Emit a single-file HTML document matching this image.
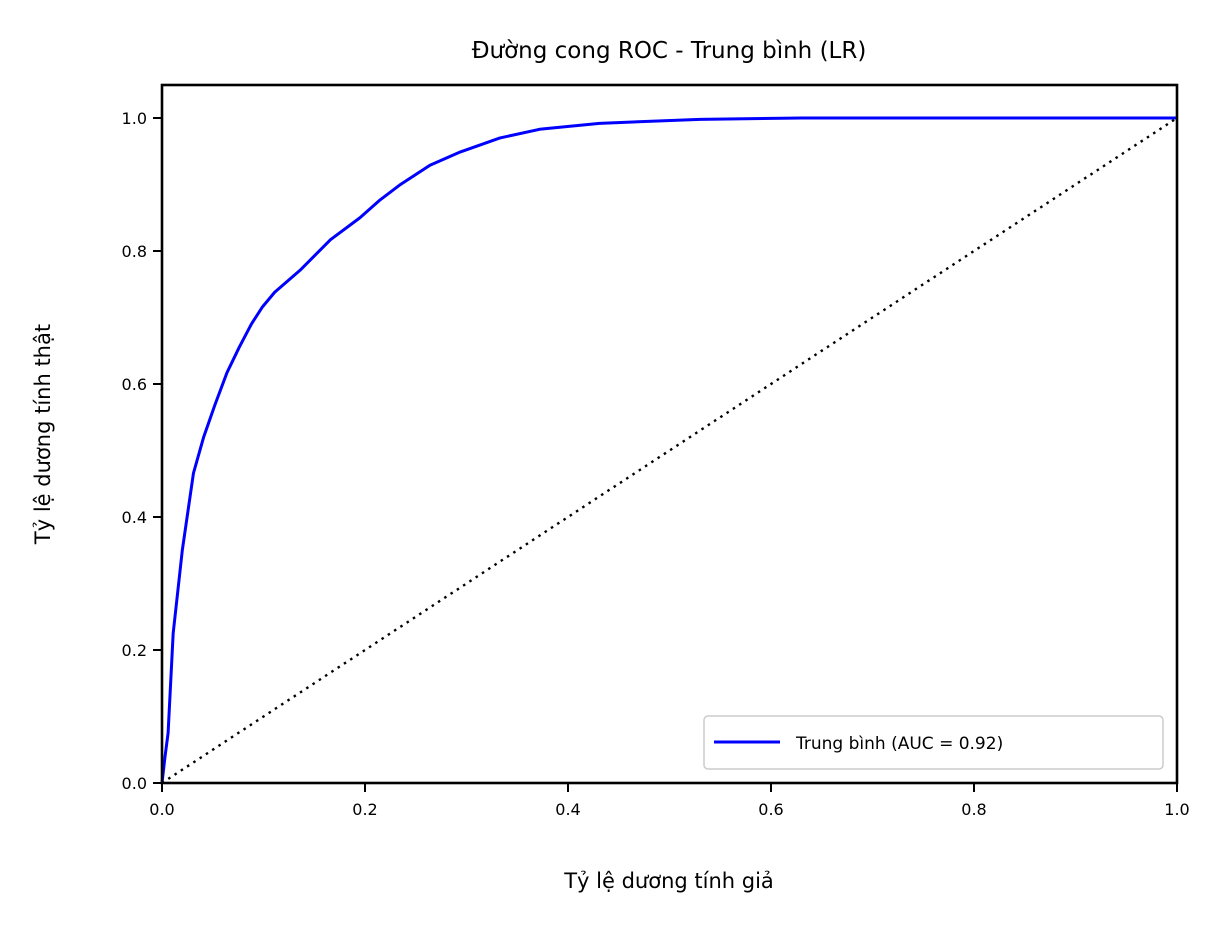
<!DOCTYPE html>
<html><head><meta charset="utf-8"><style>
body{margin:0;background:#fff}
svg text{font-family:"DejaVu Sans","Liberation Sans",sans-serif;fill:#000}
</style></head><body>
<svg width="1230" height="928" viewBox="0 0 1230 928">
<text x="669" y="58" font-size="23" text-anchor="middle">Đường cong ROC - Trung bình (LR)</text>
<g id="ticks"></g>
<polyline id="diag" fill="none" stroke="#000" stroke-width="2.4" stroke-dasharray="2.5,5"/>
<polyline id="roc" fill="none" stroke="#0000ff" stroke-width="3" stroke-linejoin="round"/>
<rect x="162" y="85" width="1015" height="698" fill="none" stroke="#000" stroke-width="2.6"/>
<text x="669" y="888" font-size="21" text-anchor="middle">Tỷ lệ dương tính giả</text>
<text transform="translate(50,434) rotate(-90)" font-size="21" text-anchor="middle">Tỷ lệ dương tính thật</text>
<g>
<rect x="704" y="716" width="459" height="53" rx="4" fill="#fff" stroke="#ccc" stroke-width="1.5"/>
<line x1="714" y1="742" x2="780" y2="742" stroke="#0000ff" stroke-width="3"/>
<text x="796" y="749" font-size="17">Trung bình (AUC = 0.92)</text>
</g>
</svg>
<script>
const fpr=[0,0.003,0.006,0.011,0.02,0.031,0.041,0.052,0.064,0.076,0.088,0.099,0.111,0.136,0.166,0.195,0.215,0.234,0.264,0.294,0.333,0.372,0.431,0.53,0.63,1];
const tpr=[0,0.04,0.075,0.225,0.35,0.466,0.52,0.568,0.617,0.655,0.69,0.716,0.738,0.771,0.817,0.85,0.877,0.899,0.929,0.949,0.97,0.983,0.992,0.998,1,1];
const xTicks=["0.0","0.2","0.4","0.6","0.8","1.0"];
const yTicks=["0.0","0.2","0.4","0.6","0.8","1.0"];
const X=v=>162+v*1015, Y=v=>783-v*665;
const ns="http://www.w3.org/2000/svg";
document.getElementById('roc').setAttribute('points',fpr.map((f,i)=>X(f)+','+Y(tpr[i])).join(' '));
document.getElementById('diag').setAttribute('points',X(0)+','+Y(0)+' '+X(1)+','+Y(1));
const g=document.getElementById('ticks');
xTicks.forEach(t=>{const v=+t;
 const l=document.createElementNS(ns,'line');l.setAttribute('x1',X(v));l.setAttribute('x2',X(v));l.setAttribute('y1',783);l.setAttribute('y2',792);l.setAttribute('stroke','#000');l.setAttribute('stroke-width','2');
 
 g.appendChild(l);
 const s=document.createElementNS(ns,'text');s.setAttribute('x',X(v));s.setAttribute('y',815);s.setAttribute('font-size','16');s.setAttribute('text-anchor','middle');s.textContent=t;
 
 g.appendChild(s);});
yTicks.forEach(t=>{const v=+t;
 const l=document.createElementNS(ns,'line');l.setAttribute('x1',153);l.setAttribute('x2',162);l.setAttribute('y1',Y(v));l.setAttribute('y2',Y(v));l.setAttribute('stroke','#000');l.setAttribute('stroke-width','2');
 
 g.appendChild(l);
 const s=document.createElementNS(ns,'text');s.setAttribute('x',147);s.setAttribute('y',Y(v)+6);s.setAttribute('font-size','16');s.setAttribute('text-anchor','end');s.textContent=t;
 
 g.appendChild(s);});
</script>
</body></html>
